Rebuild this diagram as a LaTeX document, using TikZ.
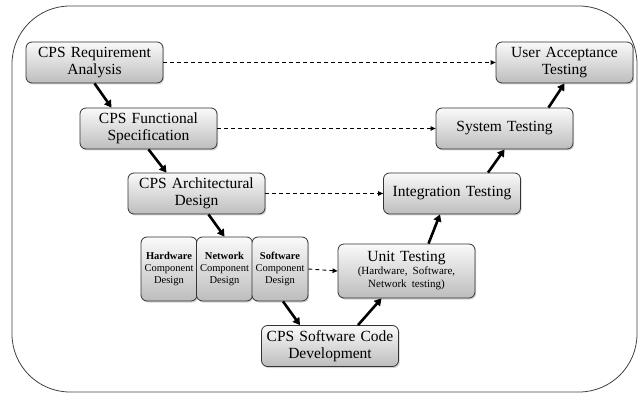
\documentclass[tikz,border=0pt]{standalone}
\usepackage{fontspec}
\setmainfont{Liberation Serif}
\usetikzlibrary{arrows.meta,shadows}

\begin{document}
\begin{tikzpicture}[x=1pt,y=-1pt]
    % Define the styles for the phases and arrows
    \tikzstyle{phase}=[rectangle, rounded corners=6pt, draw=black!80, line width=0.8pt, top color=black!2, bottom color=black!26, drop shadow={shadow xshift=1.2pt, shadow yshift=-1.5pt, opacity=0.35}, text centered, inner sep=2pt]
    \tikzstyle{bigphase}=[phase, text width=132pt, minimum width=137pt, minimum height=41pt, font=\fontsize{15.5}{17}\selectfont]
    \tikzstyle{component}=[phase, text width=52pt, minimum width=54pt, minimum height=64pt, font=\fontsize{10.5}{12}\selectfont]
    \tikzstyle{arrow}=[line width=2.6pt, ->, >={Triangle[length=7pt,width=8pt]}]
    \tikzstyle{trace}=[line width=0.9pt, dash pattern=on 4pt off 3pt, ->, >={Triangle[length=5pt,width=4.5pt]}]

    \useasboundingbox (0,0) rectangle (638,393);

    % Draw the frame
    \draw[black!75, line width=0.8pt, rounded corners=58pt] (12,6) rectangle (637,392);

    % Draw the phases
    \node[bigphase] (requirement_analysis) at (94.5, 62.5) {CPS Requirement\\Analysis};
    \node[bigphase] (functional_spec) at (148.5, 128.5) {CPS Functional\\Specification};
    \node[bigphase] (architectural_design) at (196.5, 193.5) {CPS Architectural\\Design};
    \node[component] (hardware_design) at (169, 269) {\textbf{Hardware}\\Component\\Design};
    \node[component] (network_design) at (224.5, 269) {\textbf{Network}\\Component\\Design};
    \node[component] (software_design) at (280, 269) {\textbf{Software}\\Component\\Design};
    \node[bigphase] (code_development) at (330, 346) {CPS Software Code\\Development};
    \node[bigphase, minimum height=54pt] (unit_testing) at (406.5, 271) {Unit Testing\par{\fontsize{11}{13}\selectfont (Hardware, Software,\\Network testing)\par}};
    \node[bigphase] (integration_testing) at (452, 193.5) {Integration Testing};
    \node[bigphase] (system_testing) at (504.5, 128.5) {System Testing};
    \node[bigphase] (acceptance_testing) at (564.5, 62.5) {User Acceptance\\Testing};

    % Draw the arrows between the phases
    \draw[arrow] (requirement_analysis.south) -- ([xshift=-37pt]functional_spec.north);
    \draw[arrow] (functional_spec.south) -- ([xshift=-30pt]architectural_design.north);
    \draw[arrow] ([xshift=12pt]architectural_design.south) -- (network_design.north);
    \draw[arrow] ([xshift=3pt]software_design.south) -- ([xshift=-30pt]code_development.north);
    \draw[arrow] ([xshift=28pt]code_development.north) -- ([xshift=-25pt]unit_testing.south);
    \draw[arrow] ([xshift=22pt]unit_testing.north) -- ([xshift=-12pt]integration_testing.south);
    \draw[arrow] ([xshift=36pt]integration_testing.north) -- (system_testing.south);
    \draw[arrow] ([xshift=44pt]system_testing.north) -- (acceptance_testing.south);

    % Draw the dashed arrows between the levels
    \draw[trace] (requirement_analysis.east) -- (acceptance_testing.west);
    \draw[trace] (functional_spec.east) -- (system_testing.west);
    \draw[trace] (architectural_design.east) -- (integration_testing.west);
    \draw[trace] (software_design.east) -- (unit_testing.west);
\end{tikzpicture}
\end{document}
